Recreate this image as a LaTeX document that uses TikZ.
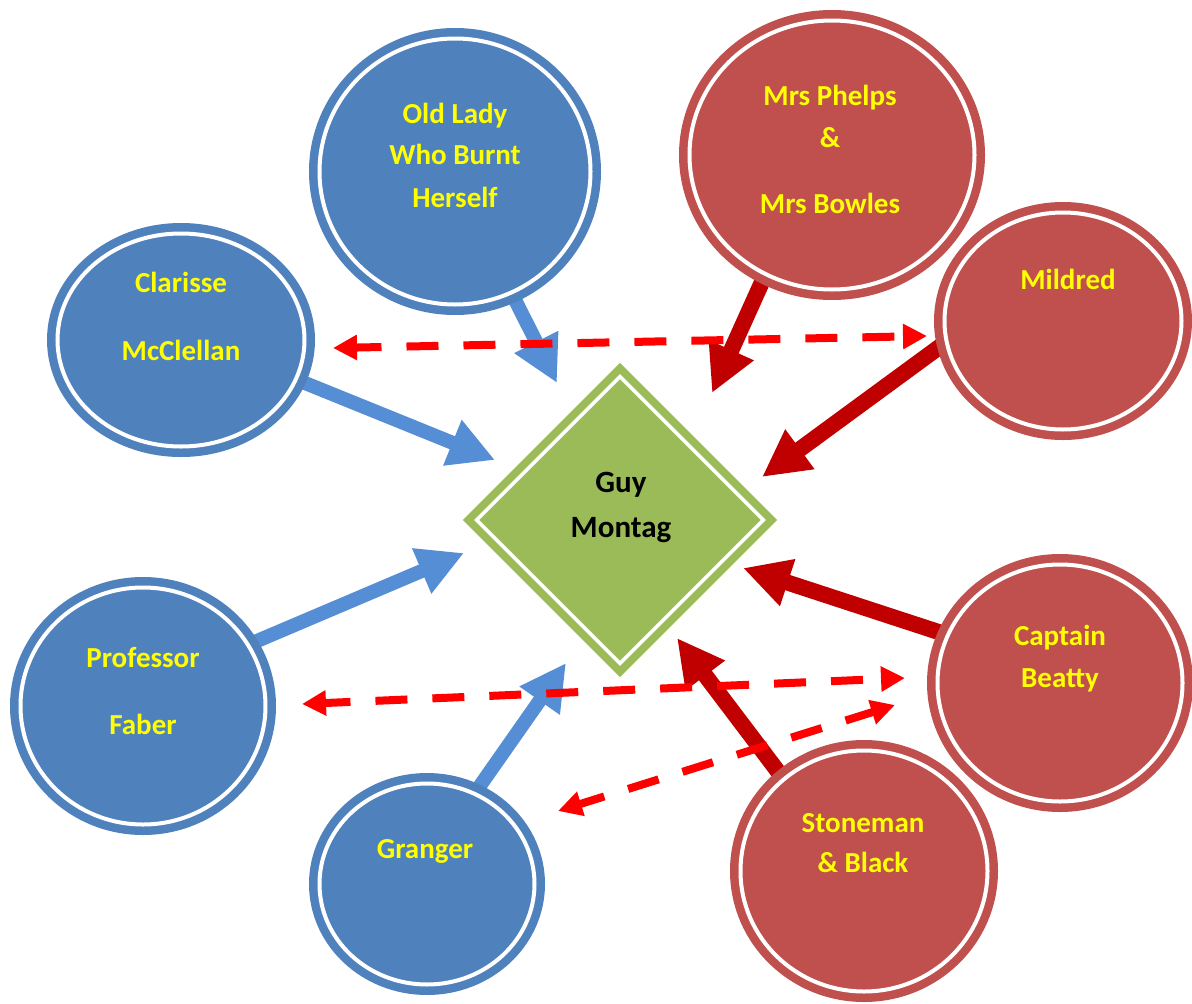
\documentclass[tikz,border=0pt]{standalone}
\usepackage{fontspec}
\newfontfamily\carl{Carlito}
\usetikzlibrary{shapes.geometric,arrows.meta}
\pgfdeclarelayer{bg}
\pgfsetlayers{bg,main}
\definecolor{cblue}{HTML}{4F81BD}
\definecolor{cred}{HTML}{C0504D}
\definecolor{cgreen}{HTML}{9BBB59}
\definecolor{carrow}{HTML}{558ED5}
\definecolor{cdark}{HTML}{C00000}
\definecolor{cdash}{HTML}{FF0000}
\definecolor{cyell}{HTML}{FFFF00}
\tikzset{
  person/.style={ellipse, inner sep=0pt, line width=8.5pt, double=white, double distance=4pt},
  blueP/.style={person, fill=cblue, draw=cblue},
  redP/.style={person, fill=cred, draw=cred},
  lbl/.style={anchor=base, inner sep=0pt, text=cyell, font=\carl\bfseries\fontsize{29}{35}\selectfont},
  glbl/.style={anchor=base, inner sep=0pt, text=black, font=\carl\bfseries\fontsize{31}{37}\selectfont},
  hub/.style={diamond, inner sep=0pt, minimum width=290pt, minimum height=290pt, fill=cgreen, draw=cgreen, line width=8pt, double=white, double distance=3.5pt},
  bluearr/.style={draw=carrow, line width=14pt, -{Triangle[length=46pt,width=46pt]}},
  redarr/.style={draw=cdark, line width=16pt, -{Triangle[length=47pt,width=46pt]}},
  dasharr/.style={draw=cdash, line width=8pt, dash pattern=on 32pt off 25pt, dash phase=6pt,
    {Triangle[length=24pt,width=24pt]}-{Triangle[length=24pt,width=24pt]}}
}
\begin{document}
\begin{tikzpicture}[x=1pt,y=-1pt]
\useasboundingbox (0,0) rectangle (1192,1004);
\begin{pgfonlayer}{bg}
\fill[white] (0,0) rectangle (1192,1004);
\end{pgfonlayer}

% hub
\node[hub] (guy) at (620,520) {};
\node[glbl] (guy1) at (621,492) {Guy};
\node[glbl] (guy2) at (621,537) {Montag};

% blue people
\node[blueP, minimum width=247pt, minimum height=213pt] (clar) at (181,340) {};
\node[blueP, minimum width=271pt, minimum height=266pt] (old) at (455,171.5) {};
\node[blueP, minimum width=245pt, minimum height=237pt] (faber) at (143,706) {};
\node[blueP, minimum width=215pt, minimum height=201pt] (grang) at (427,884) {};

% red people
\node[redP, minimum width=285pt, minimum height=269pt] (phel) at (832,155) {};
\node[redP, minimum width=237pt, minimum height=217pt] (mild) at (1063,321) {};
\node[redP, minimum width=245pt, minimum height=237pt] (beat) at (1060,683) {};
\node[redP, minimum width=247pt, minimum height=241pt] (stone) at (864,871) {};

% labels
\node[lbl] (clar1) at (181,292) {Clarisse};
\node[lbl] (clar2) at (181,360) {McClellan};
\node[lbl] (old1) at (455,123) {Old Lady};
\node[lbl] (old2) at (455,164) {Who Burnt};
\node[lbl] (old3) at (455,207) {Herself};
\node[lbl] (phel1) at (830,105) {Mrs Phelps};
\node[lbl] (phel2) at (830,147) {\&};
\node[lbl] (phel3) at (830,213) {Mrs Bowles};
\node[lbl] (mild1) at (1068,289) {Mildred};
\node[lbl] (beat1) at (1060,645) {Captain};
\node[lbl] (beat2) at (1060,687) {Beatty};
\node[lbl] (stone1) at (863,832) {Stoneman};
\node[lbl] (stone2) at (863,872) {\& Black};
\node[lbl] (faber1) at (143,667) {Professor};
\node[lbl] (faber2) at (143,734) {Faber};
\node[lbl] (grang1) at (425,858) {Granger};

% arrow tips near the hub
\coordinate (tclar) at (495,460);
\coordinate (told) at (557,383);
\coordinate (tphel) at (712,393);
\coordinate (tmild) at (762,477);
\coordinate (tbeat) at (743,568);
\coordinate (tstone) at (677,638);
\coordinate (tfaber) at (464,553);
\coordinate (tgrang) at (566,663);

\begin{pgfonlayer}{bg}
\draw[bluearr] (clar.-19) -- (tclar);
\draw[bluearr] (old.-65) -- (told);
\draw[bluearr] (faber.30) -- (tfaber);
\draw[bluearr] (grang.62.5) -- (tgrang);
\draw[redarr] (phel.-119) -- (tphel);
\draw[redarr] (mild.191) -- (tmild);
\draw[redarr] (beat.157) -- (tbeat);
\draw[redarr] (stone.131.5) -- (tstone);
\end{pgfonlayer}

% dashed two-way connectors
\coordinate (dclar) at (333,348);
\coordinate (dmild) at (927,336);
\coordinate (dfaber) at (302,704);
\coordinate (dbeatA) at (905,678);
\coordinate (dgrang) at (558,811);
\coordinate (dbeatB) at (895,705);
\draw[dasharr] (dclar) -- (dmild);
\draw[dasharr] (dfaber) -- (dbeatA);
\draw[dasharr] (dgrang) -- (dbeatB);
\end{tikzpicture}
\end{document}
